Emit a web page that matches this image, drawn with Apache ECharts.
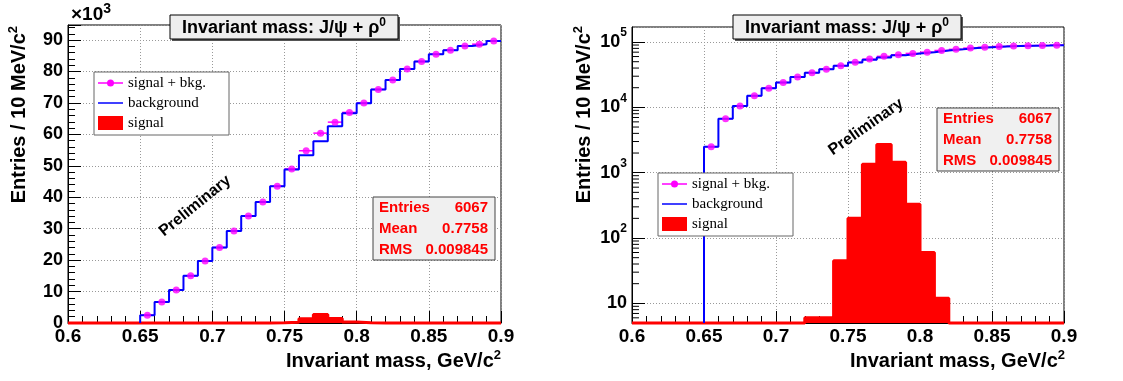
<!DOCTYPE html>
<html>
<head>
<meta charset="utf-8">
<script src="https://cdn.jsdelivr.net/npm/echarts@6/dist/echarts.min.js"></script>
<style>
  html, body { margin: 0; padding: 0; background: #fff; }
  #chart { width: 1123px; height: 381px; }
</style>
</head>
<body>
<div id="chart"></div>
<script>
// 30 bins of 10 MeV/c2
const binEdges = [0.60, 0.61, 0.62, 0.63, 0.64, 0.65, 0.66, 0.67, 0.68, 0.69,
  0.70, 0.71, 0.72, 0.73, 0.74, 0.75, 0.76, 0.77, 0.78, 0.79,
  0.80, 0.81, 0.82, 0.83, 0.84, 0.85, 0.86, 0.87, 0.88, 0.89, 0.90];
const background = [0, 0, 0, 0, 0, 2500, 6700, 10500, 15000, 19700,
  24000, 29300, 34000, 38500, 43500, 48800, 53400, 57800, 62600, 66700,
  69900, 74300, 77300, 80800, 83200, 85500, 86800, 88100, 88700, 89700];
const signal = [0, 0, 0, 0, 0, 0, 0, 0, 0, 0,
  0, 0, 6, 6, 45, 200, 1350, 2700, 1450, 330,
  60, 12, 0, 0, 0, 0, 0, 0, 0, 0];
const total = [null, null, null, null, null, 2500, 6700, 10500, 15000, 19700,
  24000, 29300, 34000, 38500, 43500, 49000, 54800, 60400, 63900, 67000,
  70000, 74300, 77300, 80800, 83200, 85500, 86800, 88100, 88700, 89700];
const xTickLabels = ['0.6', '0.65', '0.7', '0.75', '0.8', '0.85', '0.9'];
const linTickLabels = ['0', '10', '20', '30', '40', '50', '60', '70', '80', '90'];
const logTickLabels = ['10', '10{s|2}', '10{s|3}', '10{s|4}', '10{s|5}'];
const statLabels = ['Entries', 'Mean', 'RMS'];
const statValues = ['6067', '0.7758', '0.009845'];

const SANS = '"Liberation Sans", Arial, Helvetica, sans-serif';
const SERIF = '"Liberation Serif", "Times New Roman", serif';
const LIN_MAX = 94800, LOG_MIN = 5, LOG_MAX = 170000;

const chart = echarts.init(document.getElementById('chart'));

// histogram outline as step line points
function stepData(values, startIdx, base) {
  const pts = [[binEdges[startIdx], base]];
  for (let i = startIdx; i < values.length; i++) pts.push([binEdges[i], Math.max(values[i], base)]);
  pts.push([binEdges[values.length], Math.max(values[values.length - 1], base)]);
  return pts;
}
const errData = [], dotData = [];
total.forEach((v, i) => {
  if (v == null) return;
  errData.push([binEdges[i], binEdges[i + 1], v]);
  dotData.push([(binEdges[i] + binEdges[i + 1]) / 2, v]);
});
const logMinor = [];
for (let e = 0; e <= 5; e++) for (let m = 2; m <= 9; m++) {
  const v = m * Math.pow(10, e);
  if (v > LOG_MIN && v < LOG_MAX) logMinor.push([0.6, v]);
}

function panelSeries(idx, base) {
  return [
    {
      name: 'signal', type: 'line', xAxisIndex: idx, yAxisIndex: idx, step: 'end',
      data: stepData(signal, 0, base), showSymbol: false, clip: false, silent: true,
      lineStyle: { color: '#ff0000', width: 3 }, itemStyle: { color: '#ff0000' },
      areaStyle: { color: '#ff0000', opacity: 1, origin: 'start' }, z: 2
    },
    {
      name: 'signal + bkg.', type: 'custom', xAxisIndex: idx, yAxisIndex: idx,
      data: errData, silent: true, z: 3,
      renderItem: (params, api) => {
        const p0 = api.coord([api.value(0), api.value(2)]);
        const p1 = api.coord([api.value(1), api.value(2)]);
        return { type: 'line', shape: { x1: p0[0], y1: p0[1], x2: p1[0], y2: p1[1] },
          style: { stroke: '#ff00ff', lineWidth: 1.5 } };
      }
    },
    {
      name: 'background', type: 'line', xAxisIndex: idx, yAxisIndex: idx, step: 'end',
      data: stepData(background, 5, base), showSymbol: false, silent: true,
      lineStyle: { color: '#0000ff', width: 2 }, itemStyle: { color: '#0000ff' }, z: 4
    },
    {
      name: 'signal + bkg.', type: 'scatter', xAxisIndex: idx, yAxisIndex: idx,
      data: dotData, symbol: 'circle', symbolSize: 7, silent: true,
      itemStyle: { color: '#ff00ff' }, z: 5
    }
  ];
}

function xAxis(idx) {
  return {
    type: 'value', gridIndex: idx, min: 0.6, max: 0.9, interval: 0.05,
    axisLine: { lineStyle: { color: '#000', width: 1 } },
    axisTick: { inside: true, length: 12, lineStyle: { color: '#000' } },
    minorTick: { show: true, splitNumber: 5, length: 7, lineStyle: { color: '#000' } },
    splitLine: { show: true, lineStyle: { color: '#999', type: [1, 2], width: 1 } },
    axisLabel: {
      margin: 4, color: '#000', fontFamily: SANS, fontWeight: 'bold', fontSize: 19,
      formatter: v => xTickLabels[Math.round((v - 0.6) / 0.05)] || ''
    }
  };
}

const supRich = (base, sup, lh) => ({
  b: { fontFamily: SANS, fontWeight: 'bold', fontSize: base, color: '#000', lineHeight: lh },
  s: { fontFamily: SANS, fontWeight: 'bold', fontSize: sup, color: '#000', verticalAlign: 'top', lineHeight: sup }
});

function paneBox(x, y, w, h, fill, stroke, shadow) {
  const out = [];
  if (shadow) out.push({ type: 'rect', shape: { x: x + 2, y: y + 2, width: w, height: h }, style: { fill: '#555' }, z: 100 });
  out.push({ type: 'rect', shape: { x: x, y: y, width: w, height: h }, style: { fill: fill, stroke: stroke, lineWidth: 1 }, z: 101 });
  return out;
}

function titleBox(x, y) {
  return paneBox(x, y, 228, 24, '#eeeeee', '#000', true).concat([{
    type: 'text', x: x + 114, y: y + 13, z: 102,
    style: { text: '{b|Invariant mass: J/ψ + ρ}{s|0}', align: 'center', verticalAlign: 'middle', rich: supRich(18, 12, 22) }
  }]);
}

function legendBox(x, y) {
  const font = { fontFamily: SERIF, fontSize: 15, fill: '#000' };
  return paneBox(x, y, 135, 63, '#fff', '#666', false).concat([
    { type: 'line', shape: { x1: x + 4, y1: y + 11, x2: x + 29, y2: y + 11 }, style: { stroke: '#ff00ff', lineWidth: 1.5 }, z: 102 },
    { type: 'circle', shape: { cx: x + 16.5, cy: y + 11, r: 3.5 }, style: { fill: '#ff00ff' }, z: 102 },
    { type: 'text', x: x + 34, y: y + 11, z: 102, style: Object.assign({ text: 'signal + bkg.', verticalAlign: 'middle' }, font) },
    { type: 'line', shape: { x1: x + 4, y1: y + 31, x2: x + 29, y2: y + 31 }, style: { stroke: '#0000ff', lineWidth: 1.5 }, z: 102 },
    { type: 'text', x: x + 34, y: y + 31, z: 102, style: Object.assign({ text: 'background', verticalAlign: 'middle' }, font) },
    { type: 'rect', shape: { x: x + 4, y: y + 44, width: 25, height: 14 }, style: { fill: '#ff0000' }, z: 102 },
    { type: 'text', x: x + 34, y: y + 51, z: 102, style: Object.assign({ text: 'signal', verticalAlign: 'middle' }, font) }
  ]);
}

function statsBox(x, y) {
  const w = 122, h = 63;
  const out = paneBox(x, y, w, h, '#f0f0f0', '#444', false);
  statLabels.forEach((lab, i) => {
    const ty = y + 11 + i * 21;
    const st = { fontFamily: SANS, fontWeight: 'bold', fontSize: 15, fill: '#ff0000', verticalAlign: 'middle' };
    out.push({ type: 'text', x: x + 6, y: ty, z: 102, style: Object.assign({ text: lab, align: 'left' }, st) });
    out.push({ type: 'text', x: x + w - 7, y: ty, z: 102, style: Object.assign({ text: statValues[i], align: 'right' }, st) });
  });
  return out;
}

function yTitle(x) {
  return { type: 'text', x: x, y: 26, rotation: Math.PI / 2, z: 90,
    style: { text: '{b|Entries / 10 MeV/c}{s|2}', align: 'right', verticalAlign: 'middle', rich: supRich(20, 13, 24) } };
}
function xTitle(x) {
  return { type: 'text', x: x, y: 361, z: 90,
    style: { text: '{b|Invariant mass, GeV/c}{s|2}', align: 'right', verticalAlign: 'middle', rich: supRich(20, 13, 24) } };
}
function prelim(x, y, deg) {
  return { type: 'text', x: x, y: y, rotation: deg * Math.PI / 180, z: 90,
    style: { text: 'Preliminary', align: 'center', verticalAlign: 'middle', fontFamily: SANS, fontWeight: 'bold', fontSize: 16, fill: '#000' } };
}

const option = {
  animation: false,
  backgroundColor: '#fff',
  grid: [
    { left: 68, right: 622, top: 25, bottom: 58, show: true, borderColor: '#000', borderWidth: 1 },
    { left: 632, right: 59, top: 27, bottom: 58, show: true, borderColor: '#000', borderWidth: 1 }
  ],
  xAxis: [xAxis(0), xAxis(1)],
  yAxis: [
    {
      type: 'value', gridIndex: 0, min: 0, max: LIN_MAX, interval: 10000,
      axisLine: { show: true, lineStyle: { color: '#000' } },
      axisTick: { show: true, inside: true, length: 13, lineStyle: { color: '#000' } },
      minorTick: { show: true, splitNumber: 5, length: 7, lineStyle: { color: '#000' } },
      splitLine: { show: true, lineStyle: { color: '#999', type: [1, 2], width: 1 } },
      axisLabel: {
        margin: 5, color: '#000', fontFamily: SANS, fontWeight: 'bold', fontSize: 18, showMaxLabel: false,
        formatter: v => (v % 10000 === 0 ? linTickLabels[v / 10000] || '' : '')
      }
    },
    {
      type: 'log', logBase: 10, gridIndex: 1, min: LOG_MIN, max: LOG_MAX,
      axisLine: { show: true, lineStyle: { color: '#000' } },
      axisTick: { show: true, inside: true, length: 13, lineStyle: { color: '#000' } },
      splitLine: { show: true, lineStyle: { color: '#999', type: [1, 2], width: 1 } },
      axisLabel: {
        margin: 5, color: '#000', showMaxLabel: false, showMinLabel: false,
        rich: supRich(18, 12, 30),
        formatter: v => {
          const e = Math.log10(v);
          if (Math.abs(e - Math.round(e)) > 1e-6) return '';
          const s = logTickLabels[Math.round(e) - 1];
          if (!s) return '';
          return s.replace(/^10/, '{b|10}');
        }
      }
    }
  ],
  series: panelSeries(0, 0).concat(panelSeries(1, LOG_MIN), [{
    type: 'custom', xAxisIndex: 1, yAxisIndex: 1, data: logMinor, silent: true, clip: false, z: 6,
    renderItem: (params, api) => {
      const p = api.coord([api.value(0), api.value(1)]);
      return { type: 'line', shape: { x1: p[0], y1: p[1], x2: p[0] + 7, y2: p[1] }, style: { stroke: '#000', lineWidth: 1 } };
    }
  }]),
  graphic: [].concat(
    titleBox(170, 15), titleBox(733, 15),
    legendBox(94, 72), legendBox(658, 173),
    statsBox(373, 197), statsBox(937, 108),
    [
      { type: 'text', x: 71, y: 15, z: 90, style: { text: '{b|×10}{s|3}', align: 'left', verticalAlign: 'middle', rich: supRich(19, 14, 26) } },
      yTitle(19), yTitle(584), xTitle(501), xTitle(1065),
      prelim(195, 206, 39), prelim(866, 127, 35)
    ]
  )
};
chart.setOption(option);
</script>
</body>
</html>
